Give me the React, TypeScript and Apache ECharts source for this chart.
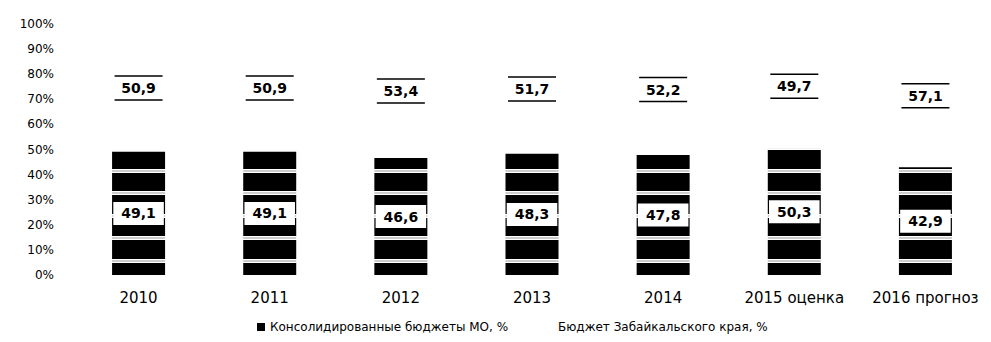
import React, { useEffect, useRef } from "react";
import * as echarts from "echarts";

const categories = ["2010", "2011", "2012", "2013", "2014", "2015 оценка", "2016 прогноз"];
const municipalShare = [49.1, 49.1, 46.6, 48.3, 47.8, 50.3, 42.9];
const regionalShare = [50.9, 50.9, 53.4, 51.7, 52.2, 49.7, 57.1];
const seriesNames = ["Консолидированные бюджеты МО, %", "Бюджет Забайкальского края, %"];

const FONT = "'DejaVu Sans', 'Liberation Sans', sans-serif";
const fmt = (v: number) => v.toFixed(1).replace(".", ",");

function makeStripePattern(): HTMLCanvasElement {
  const c = document.createElement("canvas");
  c.width = 8;
  c.height = 45;
  const ctx = c.getContext("2d")!;
  ctx.fillStyle = "#000";
  ctx.fillRect(0, 0, 8, 45);
  [13, 36].forEach((cy) => {
    ctx.fillStyle = "#fff";
    ctx.fillRect(0, cy - 2, 8, 4);
    ctx.fillStyle = "#9a9a9a";
    ctx.fillRect(0, cy - 0.5, 8, 1);
  });
  return c;
}

export default function App() {
  const ref = useRef<HTMLDivElement>(null);

  useEffect(() => {
    if (!ref.current) return;
    const chart = echarts.init(ref.current, undefined, { renderer: "svg" });
    const pattern = makeStripePattern();
    chart.setOption({
      animation: false,
      backgroundColor: "#fff",
      textStyle: { fontFamily: FONT },
      grid: { left: 73, right: -9, top: 24, bottom: 67 },
      legend: [
        {
          left: 252,
          top: 316,
          icon: "rect",
          itemWidth: 8,
          itemHeight: 8,
          itemGap: 5,
          textStyle: { fontSize: 12, color: "#000", fontFamily: FONT },
          data: [{ name: seriesNames[0], itemStyle: { color: "#000" } }],
        },
        {
          left: 540,
          top: 316,
          icon: "rect",
          itemWidth: 8,
          itemHeight: 8,
          itemGap: 5,
          textStyle: { fontSize: 12, color: "#000", fontFamily: FONT },
          data: [{ name: seriesNames[1], itemStyle: { color: "#fff" } }],
        },
      ],
      xAxis: {
        type: "category",
        data: categories,
        axisLine: { show: false },
        axisTick: { show: false },
        axisLabel: { color: "#000", fontSize: 15, margin: 15, interval: 0, fontFamily: FONT },
      },
      yAxis: {
        type: "value",
        min: 0,
        max: 100,
        interval: 10,
        splitLine: { show: false },
        axisLine: { show: false },
        axisTick: { show: false },
        axisLabel: { color: "#000", fontSize: 12, margin: 19, formatter: "{value}%", fontFamily: FONT },
      },
      series: [
        {
          name: seriesNames[0],
          type: "bar",
          stack: "total",
          barWidth: 53,
          data: municipalShare,
          itemStyle: { color: { image: pattern, repeat: "repeat" } as any },
          label: {
            show: true,
            position: "inside",
            formatter: (p: any) => fmt(p.value),
            backgroundColor: "#fff",
            color: "#000",
            fontSize: 14,
            fontWeight: "bold",
            fontFamily: FONT,
            padding: [5, 8, 4, 8],
          },
        },
        {
          name: seriesNames[1],
          type: "bar",
          stack: "total",
          barWidth: 53,
          data: regionalShare,
          itemStyle: { color: "rgba(255,255,255,0)" },
          label: {
            show: true,
            position: "inside",
            formatter: (p: any) => `{l| }\n{v|${fmt(p.value)}}\n{l| }`,
            rich: {
              l: { width: 48, height: 1.5, lineHeight: 2, backgroundColor: "#000", fontSize: 1 },
              v: { fontSize: 14, fontWeight: "bold", lineHeight: 22, color: "#000", fontFamily: FONT },
            },
          },
        },
      ],
    });
    return () => chart.dispose();
  }, []);

  return (
    <div
      ref={ref}
      style={{ position: "fixed", left: 0, top: 0, width: 991, height: 342, background: "#fff" }}
    />
  );
}
